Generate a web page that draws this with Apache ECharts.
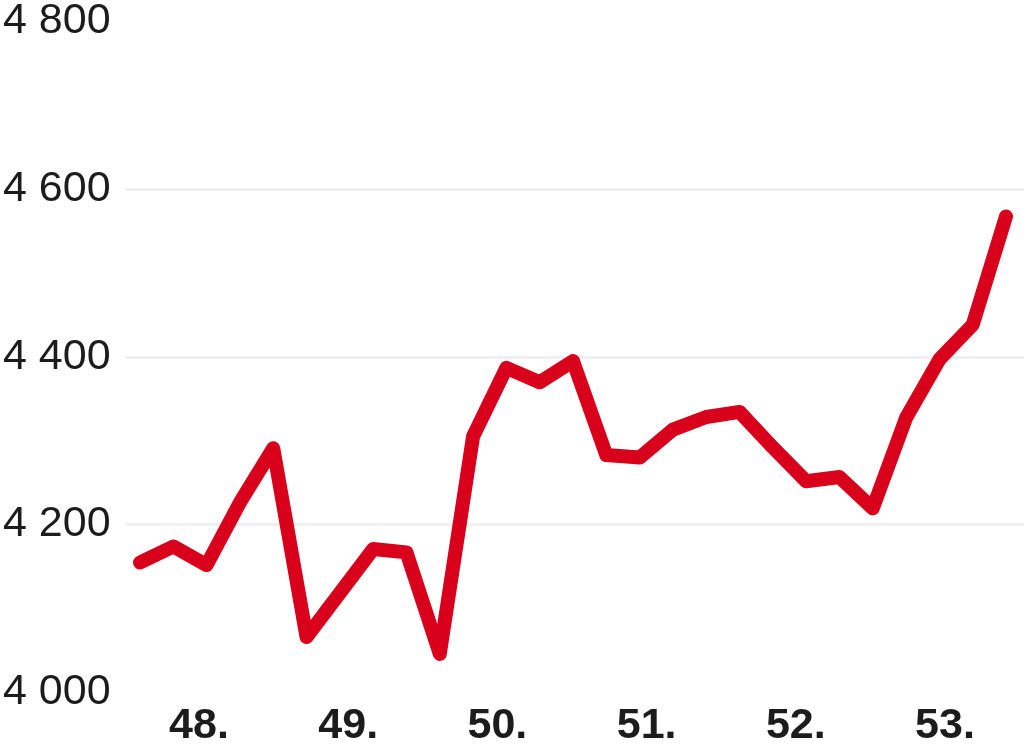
<!DOCTYPE html>
<html>
<head>
<meta charset="utf-8">
<script src="https://cdn.jsdelivr.net/npm/echarts@6/dist/echarts.min.js"></script>
<style>
html,body{margin:0;padding:0;background:#fff;}
#c{width:1024px;height:748px;}
</style>
</head>
<body>
<div id="c"></div>
<script>
// Data points (sequential observations)
var pointIndex = ['1','2','3','4','5','6','7','8','9','10','11','12','13','14','15','16','17','18','19','20','21','22','23','24','25','26','27'];
var values = [4153, 4172, 4150, 4224, 4288, 4065, 4117, 4169, 4165, 4045, 4302, 4383, 4366, 4391, 4280, 4277, 4310, 4325, 4331, 4289, 4249, 4254, 4217, 4324, 4393, 4434, 4562];
// Week tick labels
var weekMin = 48;
var weekMax = 53;
var yMin = 4000, yMax = 4800, yStep = 200;

var chart = echarts.init(document.getElementById('c'));
var fontFam = '"Liberation Sans", Arial, sans-serif';
chart.setOption({
  animation: false,
  grid: [
    {left: 123, right: 0, top: 15, bottom: 56},
    {left: 140, right: 18, top: 15, bottom: 56},
    {left: 199, right: 79, top: 15, bottom: 56}
  ],
  xAxis: [
    {gridIndex: 0, type: 'value', min: 0, max: 1, show: false},
    {gridIndex: 1, type: 'category', data: pointIndex, boundaryGap: false, show: false},
    {gridIndex: 2, type: 'value', min: weekMin, max: weekMax, interval: 1,
     axisLine: {show: false}, axisTick: {show: false}, splitLine: {show: false},
     axisLabel: {show: true, margin: 20, showMinLabel: true, showMaxLabel: true,
       fontFamily: fontFam, fontWeight: 'bold', fontSize: 43, color: '#1c1c1c',
       formatter: function (v) { return v + '.'; }}}
  ],
  yAxis: [
    {gridIndex: 0, type: 'value', min: yMin, max: yMax, interval: yStep,
     axisLine: {show: false}, axisTick: {show: false},
     axisLabel: {margin: 15, fontFamily: fontFam, fontSize: 43, color: '#1c1c1c',
       formatter: function (v) { var s = String(v); return s.slice(0, s.length - 3) + ' ' + s.slice(-3); }},
     splitLine: {show: true, showMinLine: false, showMaxLine: false, lineStyle: {color: '#f0f0f0', width: 3}}},
    {gridIndex: 1, type: 'value', min: yMin, max: yMax, show: false},
    {gridIndex: 2, type: 'value', min: yMin, max: yMax, show: false}
  ],
  series: [{
    type: 'line',
    xAxisIndex: 1, yAxisIndex: 1,
    data: values,
    symbol: 'none',
    lineStyle: {color: '#d9001c', width: 14, cap: 'round', join: 'round'}
  }]
});
</script>
</body>
</html>
